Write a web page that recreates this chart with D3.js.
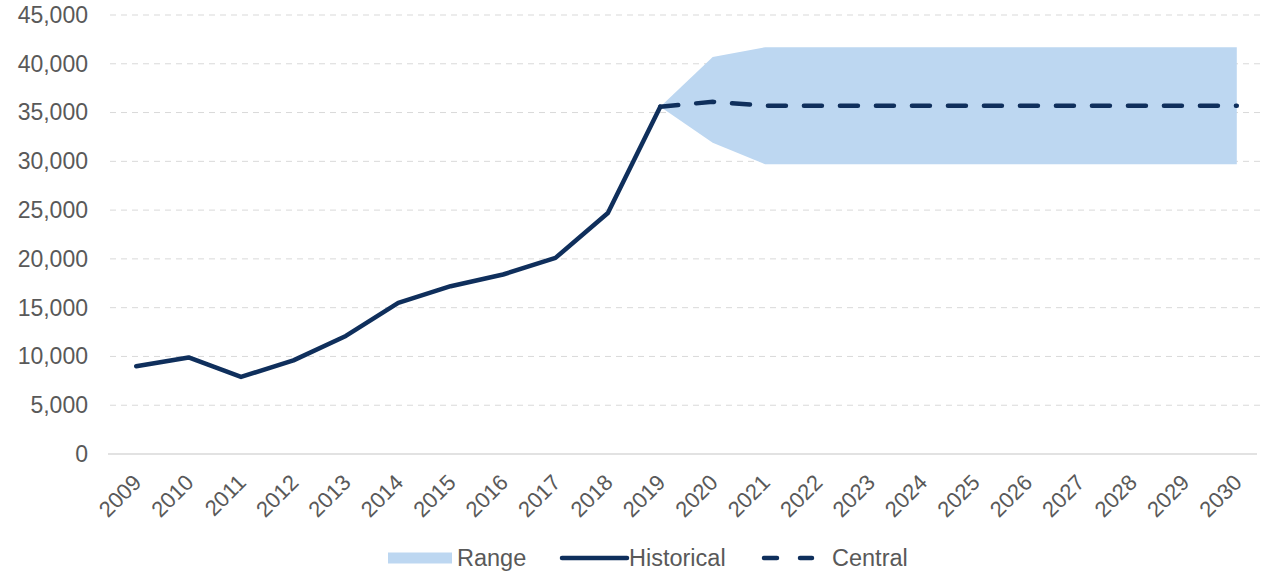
<!DOCTYPE html>
<html>
<head>
<meta charset="utf-8">
<script src="https://cdn.jsdelivr.net/npm/d3@7"></script>
<style>
  body { margin: 0; background: #fff; }
  svg { display: block; font-family: "Liberation Sans", Arial, sans-serif; }
</style>
</head>
<body>
<div id="chart"></div>
<script>
// Chart data
const years = d3.range(2009, 2031).map(String);
const historical = [9000, 9900, 7900, 9600, 12100, 15500, 17200, 18400, 20100, 24700, 35600];
const centralYears = years.slice(10);
const central = [35600, 36100, 35700, 35700, 35700, 35700, 35700, 35700, 35700, 35700, 35700, 35700];
const rangeLow = [35600, 31900, 29700, 29700, 29700, 29700, 29700, 29700, 29700, 29700, 29700, 29700];
const rangeHigh = [35600, 40700, 41700, 41700, 41700, 41700, 41700, 41700, 41700, 41700, 41700, 41700];
const yTicks = d3.range(0, 45001, 5000);

const width = 1263, height = 574;
const margin = { top: 15, right: 0, bottom: 120, left: 110 };

const svg = d3.select("#chart").append("svg")
    .attr("width", width)
    .attr("height", height);

const x = d3.scalePoint()
    .domain(years)
    .range([margin.left, width - margin.right])
    .padding(0.5);

const y = d3.scaleLinear()
    .domain([0, 45000])
    .range([height - margin.bottom, margin.top]);

const navy = "#0f2f5c";
const textColor = "#595959";

// Gridlines
svg.append("g")
    .selectAll("line")
    .data(yTicks.filter(d => d > 0))
    .enter().append("line")
    .attr("x1", margin.left)
    .attr("x2", width - margin.right)
    .attr("y1", d => y(d))
    .attr("y2", d => y(d))
    .attr("stroke", "#d9d9d9")
    .attr("stroke-width", 1)
    .attr("stroke-dasharray", "6,5");

// Y axis labels
const yAxis = svg.append("g")
    .attr("transform", `translate(${margin.left},0)`)
    .call(d3.axisLeft(y).tickValues(yTicks).tickSize(0).tickPadding(22).tickFormat(d3.format(",")));
yAxis.select(".domain").remove();
yAxis.selectAll("text")
    .attr("fill", textColor)
    .style("font-size", "23px");

// Range band
const rangeData = centralYears.map((yr, i) => ({ yr, lo: rangeLow[i], hi: rangeHigh[i] }));
svg.append("path")
    .datum(rangeData)
    .attr("fill", "#bdd7f1")
    .attr("d", d3.area().x(d => x(d.yr)).y0(d => y(d.lo)).y1(d => y(d.hi)));

// X axis
const xAxis = svg.append("g")
    .attr("transform", `translate(0,${y(0)})`)
    .call(d3.axisBottom(x).tickSize(0).tickPadding(0));
xAxis.select(".domain")
    .attr("stroke", "#d9d9d9")
    .attr("stroke-width", 1.5)
    .attr("d", `M${margin.left - 2},0H${width - 6}`);
xAxis.selectAll("text")
    .attr("fill", textColor)
    .style("font-size", "22px")
    .attr("text-anchor", "end")
    .attr("y", 0)
    .attr("dy", "0.7em")
    .attr("transform", "translate(-5,19) rotate(-45)");

// Central (dashed)
svg.append("path")
    .datum(centralYears.map((yr, i) => ({ yr, v: central[i] })))
    .attr("fill", "none")
    .attr("stroke", navy)
    .attr("stroke-width", 4.5)
    .attr("stroke-dasharray", "18,18")
    .attr("stroke-linecap", "round")
    .attr("d", d3.line().x(d => x(d.yr)).y(d => y(d.v)));

// Historical
svg.append("path")
    .datum(historical.map((v, i) => ({ yr: years[i], v })))
    .attr("fill", "none")
    .attr("stroke", navy)
    .attr("stroke-width", 4.5)
    .attr("stroke-linejoin", "round")
    .attr("stroke-linecap", "round")
    .attr("d", d3.line().x(d => x(d.yr)).y(d => y(d.v)));

// Legend
const legendY = 558;
const legend = svg.append("g").style("font-size", "23.5px").attr("fill", textColor);

legend.append("rect")
    .attr("x", 388).attr("y", legendY - 5.5)
    .attr("width", 64).attr("height", 11)
    .attr("fill", "#bdd7f1");
legend.append("text").attr("x", 457).attr("y", legendY).attr("dy", "0.36em").text("Range");

legend.append("line")
    .attr("x1", 562).attr("x2", 627)
    .attr("y1", legendY).attr("y2", legendY)
    .attr("stroke", navy).attr("stroke-width", 4.5).attr("stroke-linecap", "round");
legend.append("text").attr("x", 629).attr("y", legendY).attr("dy", "0.36em").text("Historical");

legend.append("line")
    .attr("x1", 764).attr("x2", 812)
    .attr("y1", legendY).attr("y2", legendY)
    .attr("stroke", navy).attr("stroke-width", 4.5).attr("stroke-linecap", "round")
    .attr("stroke-dasharray", "13,23");
legend.append("text").attr("x", 832).attr("y", legendY).attr("dy", "0.36em").text("Central");
</script>
</body>
</html>
